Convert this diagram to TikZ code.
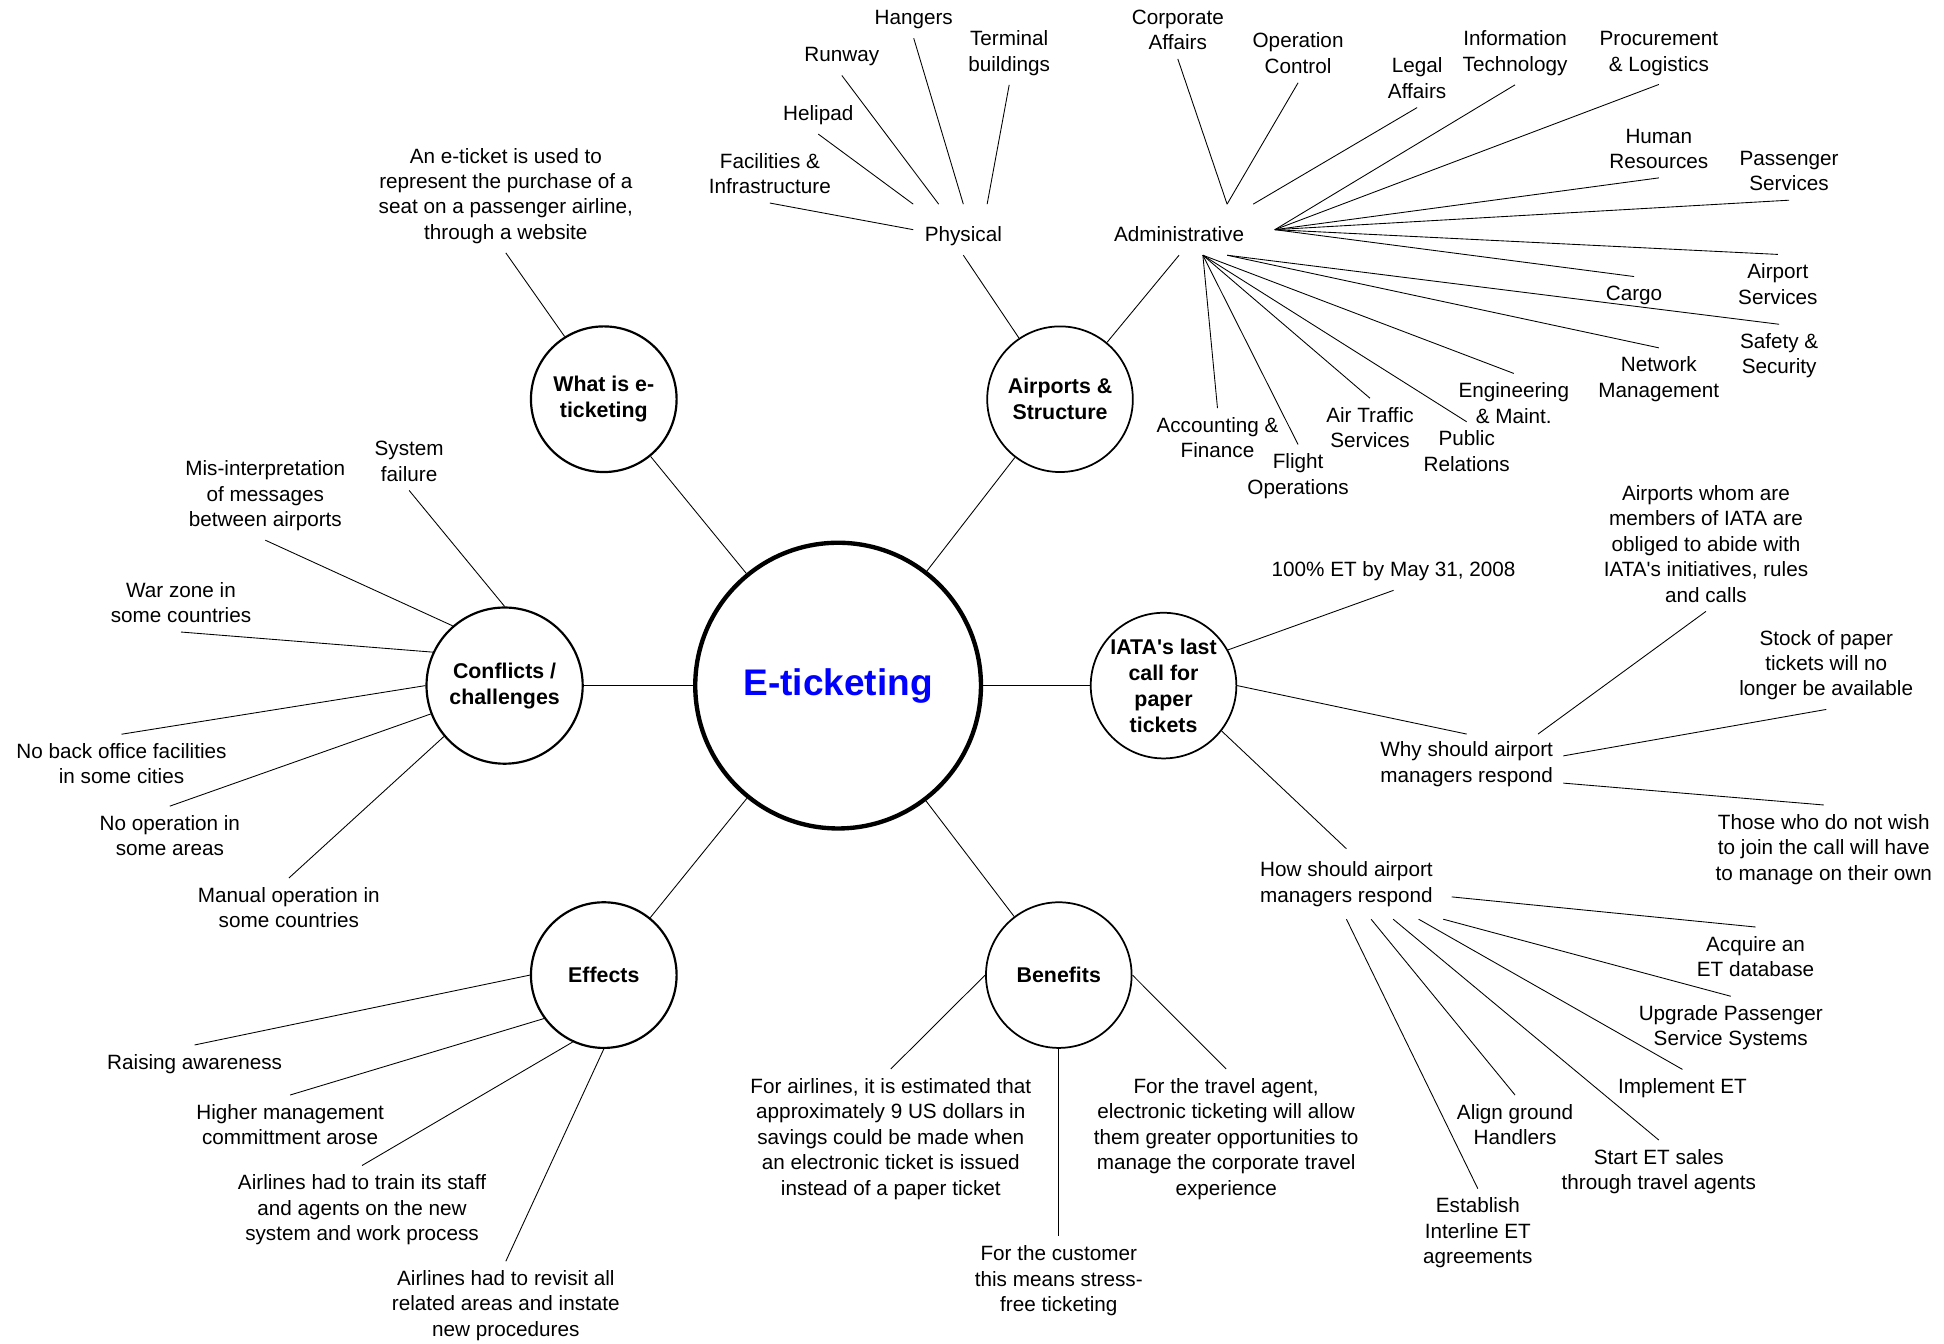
\documentclass[tikz,border=0pt]{standalone}
\usepackage{fontspec}
\setmainfont{Liberation Sans}
\definecolor{titleblue}{RGB}{0,0,255}
\newcommand{\leaffont}{\fontsize{9.5}{11.7}\selectfont}
\newcommand{\bubblefont}{\fontsize{9.8}{11.9}\selectfont\bfseries}
\tikzset{
  leaf/.style={align=center, inner sep=4pt, font=\leaffont},
  hub/.style={align=center, font=\leaffont},
  bubble/.style={circle, draw, line width=0.8pt, minimum size=2.35cm, inner sep=0pt, align=center, font=\bubblefont},
  link/.style={line width=0.4pt},
}

\begin{document}
\begin{tikzpicture}[x=0.02cm, y=-0.02cm]
  \useasboundingbox (0,0) rectangle (1568,1084);

  % centre and the six topics
  \node[circle, draw, line width=2pt, minimum size=4.61cm, text=titleblue,
        font=\fontsize{17}{20}\selectfont\bfseries] (center) at (676,553) {E-ticketing};
  \node[bubble, line width=1pt] (whatis) at (487,322) {What is e-\\ticketing};
  \node[bubble] (airports) at (855,322) {Airports \&\\Structure};
  \node[bubble, line width=1pt, minimum size=2.52cm] (conflicts) at (407,553) {Conflicts /\\challenges};
  \node[bubble] (iata) at (938.5,553) {IATA\textquotesingle s last\\call for\\paper\\tickets};
  \node[bubble, line width=1pt] (effects) at (487,786.5) {Effects};
  \node[bubble] (benefits) at (854,786.5) {Benefits};
  \foreach \b in {whatis,airports,conflicts,iata,effects,benefits}
    \draw[link] (center) -- (\b);

  % what is e-ticketing
  \node[leaf] (whatdef) at (408,158) {An e-ticket is used to\\represent the purchase of a\\seat on a passenger airline,\\through a website};
  \draw[link] (whatis.122) -- (whatdef.south);

  % airports: physical side
  \node[hub, text height=0.6cm, text depth=0.21cm, inner ysep=0pt, inner xsep=0.18cm, anchor=base] (phys) at (777,195) {Physical};
  \node[leaf] (hangers) at (737,16) {Hangers};
  \node[leaf] (runway) at (679,46) {Runway};
  \node[leaf] (terminal) at (814,43) {Terminal\\buildings};
  \node[leaf] (helipad) at (660,93) {Helipad};
  \node[leaf] (facil) at (621,140) {Facilities \&\\Infrastructure};
  \draw[link] (phys.south) -- (airports);
  \draw[link] (phys.west) -- (facil.south);
  \draw[link] (phys.north west) -- (helipad.south);
  \draw[link] (phys.134) -- (runway.south);
  \draw[link] (phys.north) -- (hangers.south);
  \draw[link] (phys.47) -- (terminal.south);

  % airports: administrative side
  \node[hub, text height=0.6cm, text depth=0.21cm, inner ysep=0pt, inner xsep=0.49cm, anchor=base] (admin) at (951,195) {Administrative};
  \node[leaf] (corp) at (950,24) {Corporate\\Affairs};
  \node[leaf] (opctrl) at (1047,43) {Operation\\Control};
  \node[leaf] (legal) at (1143,63) {Legal\\Affairs};
  \node[leaf] (infotech) at (1222,43) {Information\\Technology};
  \node[leaf] (procure) at (1338,43) {Procurement\\\& Logistics};
  \node[leaf] (human) at (1338,120) {Human\\Resources};
  \node[leaf] (pax) at (1443,138) {Passenger\\Services};
  \node[leaf] (apserv) at (1434,229) {Airport\\Services};
  \node[leaf] (cargo) at (1318,238) {Cargo};
  \node[leaf] (safety) at (1435,287) {Safety \&\\Security};
  \node[leaf] (network) at (1338,306) {Network\\Management};
  \node[leaf] (engin) at (1221,325) {Engineering\\\& Maint.};
  \node[leaf] (pubrel) at (1183,364) {Public\\Relations};
  \node[leaf] (atc) at (1105,345) {Air Traffic\\Services};
  \node[leaf] (flight) at (1047,384) {Flight\\Operations};
  \node[leaf] (account) at (982,353) {Accounting \&\\Finance};
  \draw[link] (admin.south) -- (airports);
  \foreach \l in {corp,opctrl}
    \draw[link] (admin.28) -- (\l.south);
  \draw[link] (admin.19) -- (legal.south);
  \foreach \l in {infotech,procure,human,pax}
    \draw[link] (admin.east) -- (\l.south);
  \foreach \l in {apserv,cargo}
    \draw[link] (admin.east) -- (\l.north);
  \foreach \l in {safety,network}
    \draw[link] (admin.332) -- (\l.north);
  \foreach \l in {engin,pubrel,atc,flight,account}
    \draw[link] (admin.313) -- (\l.north);

  % conflicts / challenges
  \node[leaf] (sysfail) at (330,372) {System\\failure};
  \node[leaf] (misinterp) at (214,400) {Mis-interpretation\\of messages\\between airports};
  \node[leaf] (warzone) at (146,486) {War zone in\\some countries};
  \node[leaf] (backoffice) at (98,616) {No back office facilities\\in some cities};
  \node[leaf] (nooper) at (137,674) {No operation in\\some areas};
  \node[leaf] (manual) at (233,732) {Manual operation in\\some countries};
  \foreach \a/\l in {90/sysfail,131/misinterp,155/warzone}
    \draw[link] (conflicts.\a) -- (\l.south);
  \foreach \a/\l in {180/backoffice,201/nooper,220/manual}
    \draw[link] (conflicts.\a) -- (\l.north);

  % IATA's last call
  \node[leaf] (etdate) at (1124,461) {100\% ET by May 31, 2008};
  \node[hub, inner xsep=0.16cm, inner ysep=0.12cm] (why) at (1183,616.5) {Why should airport\\managers respond};
  \node[hub, inner xsep=0.3cm, inner ysep=0.2cm] (how) at (1086,713) {How should airport\\managers respond};
  \draw[link] (iata.29) -- (etdate.south);
  \draw[link] (iata.east) -- (why.north);
  \draw[link] (iata.322) -- (how.north);

  \node[leaf] (members) at (1376,438.5) {Airports whom are\\members of IATA are\\obliged to abide with\\IATA\textquotesingle s initiatives, rules\\and calls};
  \node[leaf] (stock) at (1473,536.5) {Stock of paper\\tickets will no\\longer be available};
  \node[leaf] (those) at (1471,685) {Those who do not wish\\to join the call will have\\to manage on their own};
  \draw[link] (why.23) -- (members.south);
  \draw[link] (why.5) -- (stock.south);
  \draw[link] (why.349) -- (those.north);

  \node[leaf] (acquire) at (1416,771.5) {Acquire an\\ET database};
  \node[leaf] (upgrade) at (1396,829) {Upgrade Passenger\\Service Systems};
  \node[leaf] (implement) at (1357,877.7) {Implement ET};
  \node[leaf] (startet) at (1338,945) {Start ET sales\\through travel agents};
  \node[leaf] (align) at (1222,907) {Align ground\\Handlers};
  \node[leaf] (establish) at (1192,994.5) {Establish\\Interline ET\\agreements};
  \draw[link] (how.353) -- (acquire.north);
  \foreach \a/\l in {340/upgrade,334/implement,323/startet,305/align,270/establish}
    \draw[link] (how.\a) -- (\l.north);

  % effects
  \node[leaf] (raising) at (157,858) {Raising awareness};
  \node[leaf] (higher) at (234,907) {Higher management\\committment arose};
  \node[leaf] (train) at (292,975.8) {Airlines had to train its staff\\and agents on the new\\system and work process};
  \node[leaf] (revisit) at (408,1053) {Airlines had to revisit all\\related areas and instate\\new procedures};
  \foreach \a/\l in {180/raising,216/higher,245/train,270/revisit}
    \draw[link] (effects.\a) -- (\l.north);

  % benefits
  \node[leaf] (airlines) at (718.5,918.5) {For airlines, it is estimated that\\approximately 9 US dollars in\\savings could be made when\\an electronic ticket is issued\\instead of a paper ticket};
  \node[leaf] (travel) at (989,918.5) {For the travel agent,\\electronic ticketing will allow\\them greater opportunities to\\manage the corporate travel\\experience};
  \node[leaf] (customer) at (854,1033) {For the customer\\this means stress-\\free ticketing};
  \draw[link] (benefits.west) -- (airlines.north);
  \draw[link] (benefits.east) -- (travel.north);
  \draw[link] (benefits.south) -- (customer.north);
\end{tikzpicture}
\end{document}
